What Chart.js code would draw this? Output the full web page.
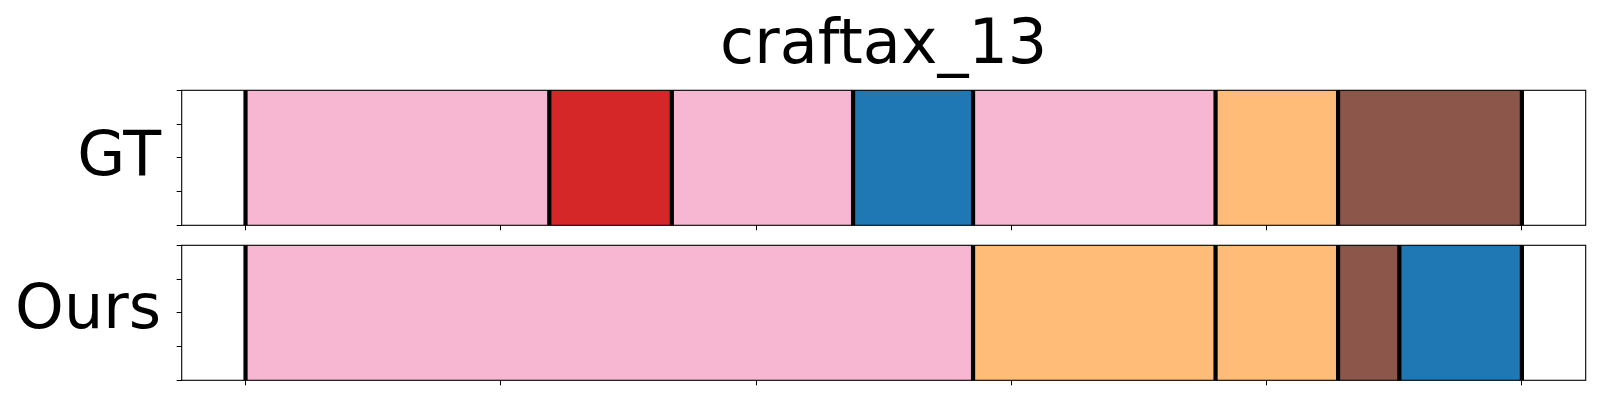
<!DOCTYPE html>
<html>
<head>
<meta charset="utf-8">
<script src="https://cdn.jsdelivr.net/npm/chart.js@4.4.1/dist/chart.umd.min.js"></script>
<style>
	html, body { margin: 0; padding: 0; background: #fff; }
	#wrap { position: relative; width: 1600px; height: 400px; }
	canvas { position: absolute; left: 0; }
	#gtChart { top: 0; }
	#oursChart { top: 235px; }
</style>
</head>
<body>
<div id="wrap">
	<canvas id="gtChart" width="1600" height="235"></canvas>
	<canvas id="oursChart" width="1600" height="165"></canvas>
</div>
<script>
// segment boundaries (frames) and the class of each segment
const gtBounds = [0, 119, 167, 238, 285, 380, 428, 500];
const gtClasses = ["pink", "red", "pink", "blue", "pink", "orange", "brown"];
const oursBounds = [0, 285, 380, 428, 452, 500];
const oursClasses = ["pink", "orange", "orange", "brown", "blue"];
const xTicks = [0, 100, 200, 300, 400, 500];
const yTickValues = [0, 0.25, 0.5, 0.75, 1];
const chartTitle = "craftax_13";

const palette = {
	pink: "#f7b6d2",
	red: "#d62728",
	blue: "#1f77b4",
	orange: "#ffbb78",
	brown: "#8c564b"
};

const FONT = "DejaVu Sans";

// frame, boundary lines and row label
const segmentPlugin = {
	id: "segmentDecor",
	afterDatasetsDraw(chart, args, opts) {
		const { ctx, chartArea, scales } = chart;
		ctx.save();
		ctx.strokeStyle = "#000";
		ctx.lineWidth = 4.2;
		opts.bounds.forEach(b => {
			const x = scales.x.getPixelForValue(b);
			ctx.beginPath();
			ctx.moveTo(x, chartArea.top);
			ctx.lineTo(x, chartArea.bottom);
			ctx.stroke();
		});
		ctx.lineWidth = 1.1;
		ctx.strokeRect(chartArea.left, chartArea.top, chartArea.right - chartArea.left, chartArea.bottom - chartArea.top);

		ctx.fillStyle = "#000";
		ctx.font = `62px "${FONT}"`;
		ctx.textAlign = "right";
		ctx.textBaseline = "alphabetic";
		ctx.fillText(opts.label, 161, opts.labelBaseline);
		if (opts.title) {
			ctx.textAlign = "center";
			ctx.fillText(opts.title, (chartArea.left + chartArea.right) / 2, 63);
		}
		ctx.restore();
	}
};

function makeChart(id, bounds, classes, label, labelBaseline, padding, title) {
	const datasets = classes.map((c, i) => ({
		data: [[bounds[i], bounds[i + 1]]],
		backgroundColor: palette[c],
		borderWidth: 0,
		grouped: false,
		barPercentage: 1,
		categoryPercentage: 1
	}));
	return new Chart(document.getElementById(id), {
		type: "bar",
		data: { labels: [""], datasets },
		options: {
			indexAxis: "y",
			responsive: false,
			animation: false,
			devicePixelRatio: 1,
			layout: { padding },
			plugins: {
				legend: { display: false },
				tooltip: { enabled: false },
				segmentDecor: { bounds, label, labelBaseline, title }
			},
			scales: {
				x: {
					type: "linear",
					min: -25,
					max: 525,
					afterBuildTicks: s => { s.ticks = xTicks.map(v => ({ value: v })); },
					afterFit: s => { s.height = 6; },
					ticks: { display: false },
					border: { display: false },
					grid: { drawOnChartArea: false, drawTicks: true, tickLength: 5, color: "#000", lineWidth: 1 }
				},
				y: { display: false },
				// tick marks only; the bars use the category axis above
				yTicks: {
					type: "linear",
					axis: "y",
					position: "left",
					offset: false,
					min: 0,
					max: 1,
					afterBuildTicks: s => { s.ticks = yTickValues.map(v => ({ value: v })); },
					afterFit: s => { s.width = 6; },
					ticks: { display: false },
					border: { display: false },
					grid: { offset: false, drawOnChartArea: false, drawTicks: true, tickLength: 5, color: "#000", lineWidth: 1 }
				}
			}
		},
		plugins: [segmentPlugin]
	});
}

makeChart("gtChart", gtBounds, gtClasses, "GT", 175,
	{ left: 175.7, right: 14.3, top: 90.3, bottom: 3.7 }, chartTitle);
makeChart("oursChart", oursBounds, oursClasses, "Ours", 93.3,
	{ left: 175.7, right: 14.3, top: 10.3, bottom: 13.7 }, null);
</script>
</body>
</html>
